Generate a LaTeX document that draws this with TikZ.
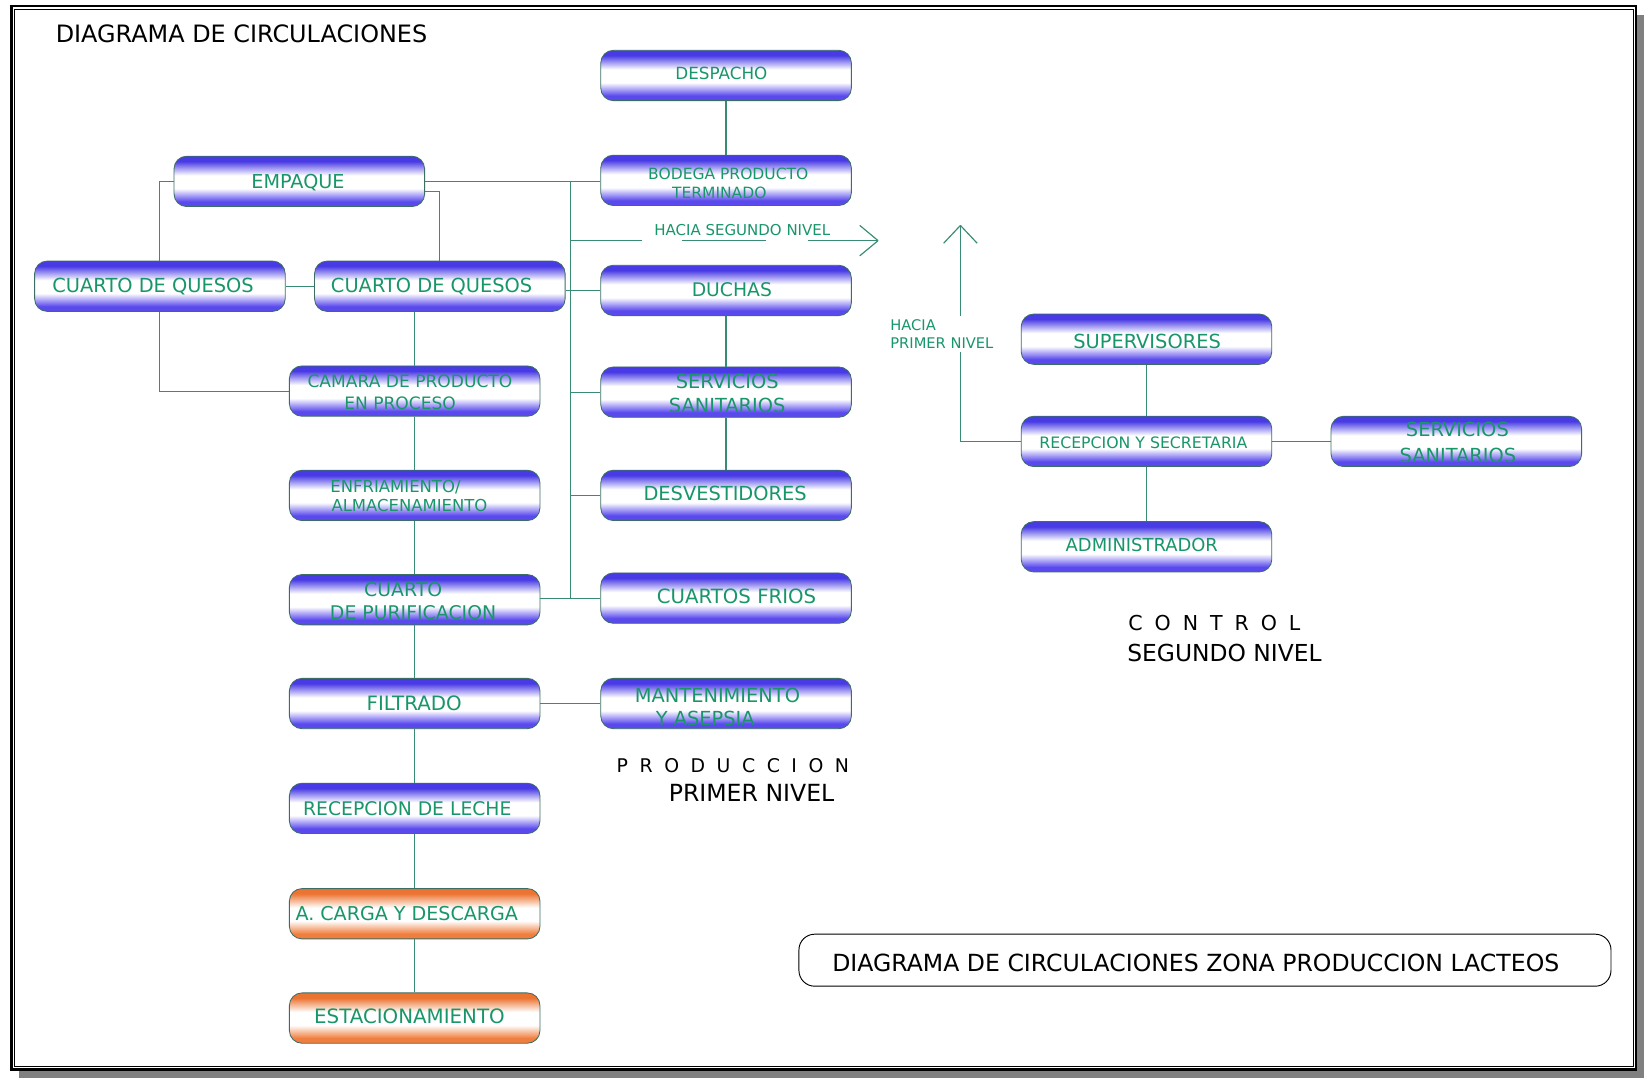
\documentclass[tikz,border=0pt]{standalone}
\usepackage{fontspec}
\newfontfamily\dv{DejaVu Sans}
\definecolor{blueT}{RGB}{72,58,228}
\definecolor{blueB}{RGB}{90,74,238}
\definecolor{orT}{RGB}{236,116,50}
\definecolor{orB}{RGB}{240,126,62}
\definecolor{txtg}{RGB}{25,150,105}
\definecolor{conn}{RGB}{55,140,115}
\definecolor{boxline}{RGB}{60,110,100}
\definecolor{shadowg}{RGB}{128,128,128}
\pgfdeclareverticalshading{bluebar}{100bp}{color(0bp)=(blueB); color(25bp)=(blueB); color(30bp)=(blueB); color(43bp)=(white); color(56bp)=(white); color(70bp)=(blueT); color(75bp)=(blueT); color(100bp)=(blueT)}
\pgfdeclareverticalshading{orangebar}{100bp}{color(0bp)=(orB); color(25bp)=(orB); color(30bp)=(orB); color(43bp)=(white); color(56bp)=(white); color(70bp)=(orT); color(75bp)=(orT); color(100bp)=(orT)}
\newcommand\tx[6]{\node[#1, font={\dv\fontsize{#5}{#5}\selectfont}] (#2) at (#3,{#4+0.3645*#5}) {#6};}
\begin{document}
\begin{tikzpicture}[x=1pt,y=-1pt,
  bbox/.style={draw=boxline, line width=0.8pt, rounded corners=12pt, minimum width=239pt, minimum height=48pt, inner sep=0pt, shade, shading=bluebar},
  obox/.style={bbox, shading=orangebar},
  legend/.style={draw=black, line width=0.9pt, fill=white, rounded corners=15pt, minimum width=774.5pt, minimum height=49.6pt, inner sep=0pt},
  conn/.style={draw=conn, line width=1.1pt},
  gc/.style={anchor=base, inner sep=0pt, text=txtg},
  gl/.style={anchor=base west, inner sep=0pt, text=txtg},
  kc/.style={anchor=base, inner sep=0pt, text=black},
  kl/.style={anchor=base west, inner sep=0pt, text=black}]
\useasboundingbox (0,0) rectangle (1568,1028);
% frame with shadow
\fill[shadowg] (18,14) rectangle (1568,1028);
\fill[white] (11,6) rectangle (1560.5,1020);
\draw[line width=2.2pt] (11,6) rectangle (1560.5,1020);
\draw[line width=0.7pt] (14,9) rectangle (1557.5,1017);

% left column
\node[bbox] (empaque) at (285.5,173) {};
\node[bbox] (cqL) at (152.5,273) {};
\node[bbox] (cqR) at (419.5,273) {};
\node[bbox] (camara) at (395.5,373) {};
\node[bbox] (enfria) at (395.5,472.5) {};
\node[bbox] (purif) at (395.5,572) {};
\node[bbox] (filtr) at (395.5,671) {};
\node[bbox] (leche) at (395.5,771) {};
\node[obox] (carga) at (395.5,871.5) {};
\node[obox] (estac) at (395.5,971) {};
% middle column
\node[bbox] (desp) at (692.5,72) {};
\node[bbox] (bodega) at (692.5,172) {};
\node[bbox] (duchas) at (692.5,277) {};
\node[bbox] (servP) at (692.5,374) {};
\node[bbox] (desv) at (692.5,472.5) {};
\node[bbox] (frios) at (692.5,570.5) {};
\node[bbox] (mant) at (692.5,671) {};
% control
\node[bbox] (superv) at (1093.5,323.5) {};
\node[bbox] (recep) at (1093.5,421) {};
\node[bbox] (admin) at (1093.5,521.5) {};
\node[bbox] (servC) at (1389,421) {};
% legend box
\node[legend] (leg) at (1149.25,915.8) {};

% connectors
\coordinate (trT) at (544,173);
\coordinate (hsA) at (612,229.5);
\coordinate (hsB) at (650,229.5);
\coordinate (hsC) at (731,229.5);
\coordinate (hsD) at (771,229.5);
\coordinate (hsTip) at (837.5,229.5);
\coordinate (hpA) at (916,336);
\coordinate (hpB) at (916,301.5);
\coordinate (hpTip) at (916,215);
\begin{scope}[conn]
\draw (empaque.west) -| (cqL.north);
\draw (empaque.east) -- (empaque.east -| bodega.west);
\draw ([yshift=-10pt]empaque.east) -| (cqR.north);
\draw (cqL.east) -- (cqR.west);
\draw (cqL.south) |- (camara.west);
\draw (camara.north |- cqR.south) -- (camara.north);
\draw (camara.south) -- (enfria.north);
\draw (enfria.south) -- (purif.north);
\draw (purif.south) -- (filtr.north);
\draw (filtr.south) -- (leche.north);
\draw (leche.south) -- (carga.north);
\draw (carga.south) -- (estac.north);
\draw (trT) -- (trT |- frios.west);
\draw (cqR.east |- duchas.west) -- (duchas.west);
\draw (trT |- servP.west) -- (servP.west);
\draw (trT |- desv.west) -- (desv.west);
\draw (purif.east |- frios.west) -- (frios.west);
\draw (filtr.east) -- (mant.west);
\draw (desp.south) -- (bodega.north);
\draw (duchas.south) -- (servP.north);
\draw (servP.south) -- (desv.north);
\draw (trT |- hsA) -- (hsA);
\draw (hsB) -- (hsC);
\draw (hsD) -- (hsTip);
\draw (hsTip) -- ++(-17.5,-14.5);
\draw (hsTip) -- ++(-17.5,14.5);
\draw (superv.south) -- (recep.north);
\draw (recep.south) -- (admin.north);
\draw (recep.east) -- (servC.west);
\draw (recep.west) -| (hpA);
\draw (hpB) -- (hpTip);
\draw (hpTip) -- ++(-16,17);
\draw (hpTip) -- ++(16,17);
\end{scope}

% box texts
\tx{gc}{tEmp}{284.2}{173.3}{18.3}{EMPAQUE}
\tx{gc}{tCqL}{146}{272.5}{18.5}{CUARTO DE QUESOS}
\tx{gc}{tCqR}{411.7}{272.5}{18.5}{CUARTO DE QUESOS}
\tx{gc}{tCam1}{391}{364}{16.3}{CAMARA DE PRODUCTO}
\tx{gc}{tCam2}{381.6}{384.7}{16.3}{EN PROCESO}
\tx{gl}{tEnf1}{315}{464}{15.7}{ENFRIAMIENTO/}
\tx{gl}{tEnf2}{316}{482.5}{15.7}{ALMACENAMIENTO}
\tx{gc}{tPur1}{384.5}{562}{18}{CUARTO}
\tx{gc}{tPur2}{394}{584}{18}{DE PURIFICACION}
\tx{gc}{tFil}{395}{670.6}{18.9}{FILTRADO}
\tx{gc}{tLec}{388.5}{771}{17.9}{RECEPCION DE LECHE}
\tx{gc}{tCar}{388}{871}{18.2}{A. CARGA Y DESCARGA}
\tx{gc}{tEst}{390.5}{969.6}{18.9}{ESTACIONAMIENTO}
\tx{gc}{tDes}{688}{69.8}{16}{DESPACHO}
\tx{gc}{tBod1}{694.6}{166}{14.8}{BODEGA PRODUCTO}
\tx{gc}{tBod2}{686}{184}{14.8}{TERMINADO}
\tx{gc}{tHs}{708}{219.7}{14.3}{HACIA SEGUNDO NIVEL}
\tx{gc}{tDuc}{698}{276}{17.9}{DUCHAS}
\tx{gc}{tSer1}{693.6}{364}{18.5}{SERVICIOS}
\tx{gc}{tSer2}{693.5}{387}{18.5}{SANITARIOS}
\tx{gc}{tDesv}{691.6}{471}{18.5}{DESVESTIDORES}
\tx{gc}{tFri}{702.5}{569}{18.8}{CUARTOS FRIOS}
\tx{gc}{tMan1}{684.3}{663}{18.5}{MANTENIMIENTO}
\tx{gc}{tMan2}{672.7}{685}{18.5}{Y ASEPSIA}
\tx{gl}{tHp1}{849}{310}{14}{HACIA}
\tx{gl}{tHp2}{849}{327}{14}{PRIMER NIVEL}
\tx{gc}{tSup}{1094}{326}{18.5}{SUPERVISORES}
\tx{gc}{tRec}{1090.5}{422}{15}{RECEPCION Y SECRETARIA}
\tx{gc}{tAdm}{1089}{519.8}{17.1}{ADMINISTRADOR}
\tx{gc}{tSc1}{1390}{410}{18.5}{SERVICIOS}
\tx{gc}{tSc2}{1390.5}{434}{18.5}{SANITARIOS}

% black labels
\tx{kl}{tTitle}{53}{32.6}{22.8}{DIAGRAMA DE CIRCULACIONES}
\tx{kl}{tProd}{588}{730.6}{18}{P\kern11pt R\kern11pt O\kern11pt D\kern11pt U\kern11pt C\kern11pt C\kern11pt I\kern11pt O\kern11pt N}
\tx{kc}{tPrim}{716.8}{756}{22.5}{PRIMER NIVEL}
\tx{kl}{tCtrl}{1076}{594}{19.6}{C\kern11.4pt O\kern11.4pt N\kern11.4pt T\kern11.4pt R\kern11.4pt O\kern11.4pt L}
\tx{kl}{tSeg}{1075}{623}{22.3}{SEGUNDO NIVEL}
\tx{kc}{tLeg}{1140.5}{918.8}{22.5}{DIAGRAMA DE CIRCULACIONES ZONA PRODUCCION LACTEOS}
\end{tikzpicture}
\end{document}
